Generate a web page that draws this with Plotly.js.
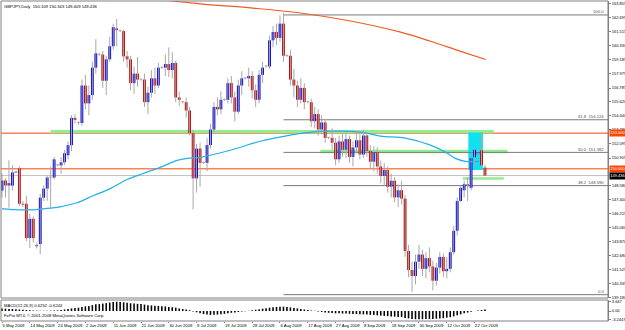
<!DOCTYPE html>
<html><head><meta charset="utf-8">
<script src="https://cdn.plot.ly/plotly-3.0.1.min.js"></script>
<style>html,body{margin:0;padding:0;background:#fff;overflow:hidden}#chart{width:625px;height:330px}</style>
</head><body><div id="chart"></div>
<script>
// ---- data (GBPJPY daily candles, bar index order) ----
const openP = [148.17,149.02,148.60,148.59,149.70,150.04,147.07,147.07,144.18,145.80,143.60,143.68,147.58,148.34,149.27,149.27,150.30,150.29,150.55,151.14,151.99,154.28,153.85,153.85,157.00,155.50,156.20,158.50,159.60,159.60,157.40,159.20,160.30,161.80,161.57,161.57,159.45,159.20,157.20,158.00,157.50,157.50,155.60,156.40,157.60,157.00,158.50,158.50,158.80,158.30,158.90,156.00,155.60,155.60,154.90,153.00,149.20,151.70,150.50,150.50,152.00,153.30,155.20,155.00,155.80,155.80,157.20,156.00,154.80,157.00,157.60,157.60,157.80,156.60,155.80,157.90,158.60,158.60,160.80,161.50,161.00,162.20,159.50,159.50,157.50,157.00,155.80,156.80,155.60,155.60,154.00,154.60,153.30,153.90,152.60,152.60,152.20,150.80,152.30,151.60,152.50,151.00,151.80,152.40,151.20,152.80,151.50,150.60,151.40,150.20,149.40,149.90,148.50,149.00,147.60,148.20,147.50,143.10,141.50,141.00,142.20,142.80,141.60,142.50,141.80,140.60,141.70,142.60,141.40,141.60,143.00,144.80,147.30,148.20,148.70,148.40,150.97,151.30,151.56,150.109];
const highP = [149.61,149.20,150.72,150.30,149.80,150.20,147.30,147.75,146.22,146.00,143.80,147.90,148.60,149.44,150.20,151.00,150.40,151.00,151.60,152.30,154.50,154.60,154.00,157.50,157.90,157.00,159.00,160.90,159.70,159.90,159.50,161.10,162.20,162.60,161.70,161.70,159.90,159.50,158.60,159.40,157.60,158.00,156.90,158.30,158.50,158.90,158.60,159.60,160.20,159.80,159.10,156.50,155.70,156.00,155.20,153.30,152.10,152.20,150.60,152.60,153.80,155.60,156.00,156.50,155.90,157.60,157.80,156.50,157.50,158.20,157.70,158.50,158.20,157.10,158.30,159.00,158.70,161.20,162.00,162.20,162.90,163.10,159.60,160.00,158.40,157.40,157.60,157.20,155.70,155.90,155.20,155.00,154.50,154.20,152.70,153.40,152.60,152.80,153.00,153.00,152.80,152.30,153.20,152.90,153.30,153.10,152.00,151.90,151.80,150.70,150.50,150.20,149.60,149.30,148.70,149.00,147.80,143.60,142.20,142.80,143.60,143.20,143.00,143.40,142.30,142.10,143.00,142.90,142.60,143.40,145.20,147.60,148.60,149.00,149.30,151.00,151.80,151.60,153.09,150.343];
const lowP = [147.58,147.58,146.73,148.20,149.65,146.90,146.80,143.93,143.34,143.80,143.30,142.83,147.30,147.32,146.73,149.10,150.20,149.60,150.30,150.80,151.50,153.80,153.70,153.60,155.00,154.50,155.80,158.00,159.50,156.80,156.20,159.00,160.00,160.30,161.50,159.00,158.50,156.60,156.30,156.90,157.40,155.20,154.60,156.00,156.30,156.80,158.40,157.80,157.70,157.60,155.60,155.30,155.50,154.30,152.80,146.60,148.00,148.50,150.40,149.80,151.70,153.00,154.50,154.60,155.70,155.50,155.50,154.00,154.60,156.20,157.50,156.90,155.90,155.20,155.50,157.20,158.50,158.40,160.20,160.40,160.70,159.00,159.40,157.00,156.00,155.20,155.50,155.00,155.50,153.50,153.40,152.80,152.90,152.20,152.50,151.60,150.30,150.50,151.00,150.90,150.50,150.20,151.30,150.80,150.90,151.00,150.00,149.80,149.60,148.80,148.60,148.00,147.60,147.20,146.80,147.00,142.60,140.90,139.66,140.30,141.60,141.00,140.80,141.30,139.80,140.20,141.20,140.90,140.80,141.30,142.80,144.40,147.20,147.60,147.30,148.20,150.20,151.00,150.20,149.409];
const closeP = [149.02,148.60,148.80,149.70,149.75,147.07,147.00,144.18,145.80,144.18,143.50,147.58,148.34,149.27,149.30,150.80,150.35,150.55,151.31,151.99,154.28,154.11,153.85,157.00,155.50,156.20,158.50,159.70,159.62,157.40,159.20,160.30,161.90,161.65,161.60,159.45,159.20,157.20,158.00,157.50,157.52,155.60,156.40,157.60,157.00,158.50,158.52,158.80,158.30,158.90,156.00,155.80,155.62,154.90,153.00,149.20,151.70,150.50,150.52,152.00,153.30,155.20,155.00,155.80,155.82,157.20,156.00,154.80,157.00,157.60,157.62,157.80,156.60,155.80,157.90,158.50,158.62,160.80,161.50,161.00,162.20,159.50,159.52,157.50,157.00,155.80,156.80,155.60,155.62,154.00,154.60,153.30,153.90,152.60,152.62,152.20,150.80,152.30,151.60,152.50,151.00,151.80,152.40,151.20,152.80,151.50,150.60,151.40,150.20,149.40,149.90,148.50,149.00,147.60,148.20,147.50,143.10,141.50,141.00,142.20,142.80,141.60,142.50,141.80,140.60,141.70,142.60,141.40,141.60,143.00,144.80,147.30,148.40,148.70,148.60,150.90,151.60,151.40,150.30,149.436];
const macdMain = [1.0,0.9,0.8,0.75,0.7,0.6,0.5,0.4,0.3,0.2,0.15,0.1,0.1,0.12,0.15,0.2,0.25,0.4,0.6,0.8,1.0,1.2,1.3,1.6,1.8,2.0,2.3,2.6,2.7,2.9,3.1,3.3,3.5,3.6,3.55,3.4,3.2,3.0,2.9,2.8,2.7,2.5,2.3,2.2,2.1,2.0,1.9,1.8,1.6,1.5,1.3,1.0,0.8,0.6,0.3,-0.2,-0.5,-0.9,-1.2,-1.4,-1.5,-1.5,-1.4,-1.3,-1.1,-0.9,-0.7,-0.6,-0.4,-0.2,-0.1,0.1,0.3,0.5,0.7,0.9,1.1,1.3,1.5,1.6,1.7,1.7,1.6,1.4,1.2,1.0,0.8,0.6,0.4,0.2,0.1,-0.2,-0.4,-0.6,-0.7,-0.8,-0.9,-0.9,-1.0,-1.0,-1.1,-1.2,-1.2,-1.3,-1.3,-1.4,-1.5,-1.6,-1.7,-1.8,-1.9,-2.0,-2.1,-2.2,-2.3,-2.4,-2.7,-2.9,-3.1,-3.2,-3.2,-3.2,-3.1,-3.1,-3.1,-3.0,-2.9,-2.8,-2.6,-2.4,-2.1,-1.7,-1.3,-0.9,-0.6,-0.3,0.0,0.2,0.4,0.6252];
const maFastIdx = [0,5.2,8.9,11.8,16.7,21.6,26.2,31.1,36.0,40.6,45.5,50.4,53.3,57.1,65.7,74.4,83.0,88.8,94.5,103.2,108.9,116.1,123.3,127.7,130.5,133.4,137.2];
const maFastVal = [146.64,146.56,146.56,146.64,146.81,147.15,147.74,148.34,149.10,149.61,150.12,150.71,150.88,150.97,151.56,152.32,152.83,153.09,153.17,153.09,152.75,152.58,151.99,151.39,150.88,150.63,150.63];
const maSlowIdx = [43.5,57.1,71.5,85.9,100.3,114.7,123.3,132.0,139.2];
const maSlowVal = [164.28,163.86,163.52,163.09,162.42,161.48,160.72,159.87,159.19];
const dateTickIdx = [0,8,16,24,32,40,48,56,64,72,80,88,96,104,112,120,128,136];
const dateLabels = ["5 May 2009","14 May 2009","24 May 2009","2 Jun 2009","11 Jun 2009","21 Jun 2009","30 Jun 2009","9 Jul 2009","19 Jul 2009","28 Jul 2009","6 Aug 2009","17 Aug 2009","27 Aug 2009","8 Sep 2009","18 Sep 2009","30 Sep 2009","12 Oct 2009","22 Oct 2009"];
const priceTickVals = [139.180,140.335,141.525,142.680,143.870,145.060,146.215,147.400,148.580,150.905,152.095,153.280,154.440,155.620,156.785,157.975,159.185,160.330,161.515,162.695,163.855];
const priceTickText = ["139.180","140.335","141.525","142.680","143.870","145.060","146.215","147.400","148.580","150.905","152.095","153.280","154.440","155.620","156.785","157.975","159.185","160.330","161.515","162.695","163.855"];
const macdTickVals = [3.647,0,-3.2447];
const macdTickText = ["3.647","0.00","-3.2447"];
const fibLevels = [162.93,154.124,151.382,148.590,139.43];
const fibNames = ["100.0","61.8  154.124","50.0  151.382","38.2  148.590","0.0"];
const fibStartIdx = 81;
const hLevels = [153.0,150.0];
const hLevelText = ["153.000","150.000"];
const bidPrice = 149.436;
const zoneX0 = [14,91.6,132.6];
const zoneX1 = [141.5,145.5,144.4];
const zoneY0 = [153.0,151.3,149.08];
const zoneY1 = [153.27,151.6,149.3];
const boxX = [134.2,138.4];
const boxY = [149.9,153.05];

// ---- build ----
const n = openP.length;
const idx = openP.map((_, i) => i);
const wx = [], wy = [];
for (let i = 0; i < n; i++) { wx.push(i, i, null); wy.push(lowP[i], highP[i], null); }
const bodyBase = [], bodyH = [], bodyCol = [];
for (let i = 0; i < n; i++) {
  const o = openP[i], c = closeP[i];
  bodyBase.push(Math.min(o, c));
  bodyH.push(Math.max(Math.abs(c - o), 0.07));
  bodyCol.push(Math.abs(c - o) < 0.05 ? '#9a9a9a' : (c > o ? '#0000d8' : '#c00000'));
}
const F = 'Liberation Sans, Arial, sans-serif';
const fs = 4.2;
const traces = [
  {type:'scatter', mode:'lines', x:maFastIdx, y:maFastVal, line:{color:'#20b0f0', width:1.2, shape:'spline'}, hoverinfo:'skip', xaxis:'x', yaxis:'y'},
  {type:'scatter', mode:'lines', x:maSlowIdx, y:maSlowVal, line:{color:'#f05a20', width:1.2, shape:'spline'}, hoverinfo:'skip', xaxis:'x', yaxis:'y'},
  {type:'scatter', mode:'lines', x:wx, y:wy, line:{color:'#a8a8a8', width:1}, hoverinfo:'skip', connectgaps:false, xaxis:'x', yaxis:'y'},
  {type:'bar', x:idx, y:bodyH, base:bodyBase, width:0.8, marker:{color:bodyCol, line:{width:0}}, hoverinfo:'skip', xaxis:'x', yaxis:'y'},
  {type:'bar', x:idx, y:macdMain, width:0.45, marker:{color:'#000000', line:{width:0}}, hoverinfo:'skip', xaxis:'x', yaxis:'y2'}
];
const shapes = [];
const annotations = [];
for (let k = 0; k < zoneX0.length; k++) shapes.push({type:'rect', xref:'x', yref:'y', x0:zoneX0[k], x1:zoneX1[k], y0:zoneY0[k], y1:zoneY1[k], fillcolor:'#90ee90', line:{width:0}, layer:'below'});
shapes.push({type:'rect', xref:'x', yref:'y', x0:boxX[0], x1:boxX[1], y0:boxY[0], y1:boxY[1], fillcolor:'#10e0f0', line:{width:0}, layer:'below'});
fibLevels.forEach((v, k) => {
  shapes.push({type:'line', xref:'x', yref:'y', x0:fibStartIdx, x1:174.4, y0:v, y1:v, line:{color:'#7a7a7a', width:1}, layer:'below'});
  annotations.push({xref:'paper', yref:'y', x:0.997, y:v, yshift:3, xanchor:'right', yanchor:'middle', text:fibNames[k], showarrow:false, font:{family:F, size:fs, color:'#505050'}});
});
hLevels.forEach((v, k) => {
  shapes.push({type:'line', xref:'paper', yref:'y', x0:0, x1:1, y0:v, y1:v, line:{color:'#ff4500', width:1}, layer:'below'});
  annotations.push({xref:'paper', yref:'y', x:1, xshift:1, y:v, xanchor:'left', yanchor:'middle', text:hLevelText[k], showarrow:false, bgcolor:'#ff4500', borderpad:0.3, font:{family:F, size:4, color:'#ffffff'}});
});
shapes.push({type:'line', xref:'paper', yref:'y', x0:0, x1:1, y0:bidPrice, y1:bidPrice, line:{color:'#c0c0c0', width:1}, layer:'below'});
annotations.push({xref:'paper', yref:'y', x:1, xshift:1, y:bidPrice, xanchor:'left', yanchor:'middle', text:bidPrice.toFixed(3), showarrow:false, bgcolor:'#000000', borderpad:0.3, font:{family:F, size:4, color:'#ffffff'}});
const pDom = [0.0719, 1], mDom = [0, 0.0656];
shapes.push({type:'rect', xref:'paper', yref:'paper', x0:0, x1:1, y0:pDom[0], y1:pDom[1], line:{color:'#808080', width:1}, fillcolor:'rgba(0,0,0,0)'});
shapes.push({type:'rect', xref:'paper', yref:'paper', x0:0, x1:1, y0:mDom[0], y1:mDom[1], line:{color:'#808080', width:1}, fillcolor:'rgba(0,0,0,0)'});
annotations.push({xref:'paper', yref:'paper', x:0.002, y:0.997, xanchor:'left', yanchor:'top', text:'GBPJPY,Daily  150.109 150.343 149.409 149.436', showarrow:false, font:{family:F, size:fs, color:'#000000'}});
annotations.push({xref:'paper', yref:'paper', x:0.002, y:mDom[1], yshift:-1, xanchor:'left', yanchor:'top', text:'MACD(12,26,9) 0.6252 -0.6244', showarrow:false, font:{family:F, size:fs, color:'#000000'}});
annotations.push({xref:'paper', yref:'paper', x:0.002, y:0.0, yshift:1, xanchor:'left', yanchor:'bottom', text:'FxPro MT4, © 2001-2008 MetaQuotes Software Corp.', showarrow:false, font:{family:F, size:fs, color:'#000000'}});

const layout = {
  width:625, height:330, margin:{l:1, r:17, t:1, b:9},
  paper_bgcolor:'#ffffff', plot_bgcolor:'#ffffff', showlegend:false, barmode:'overlay',
  xaxis:{range:[-0.29,174.4], anchor:'y2', automargin:false, showgrid:false, zeroline:false, tickmode:'array', tickvals:dateTickIdx, ticktext:dateLabels, tickangle:0, ticks:'outside', ticklen:1, tickcolor:'#808080', ticklabelposition:'outside right', ticklabelstandoff:0, tickfont:{family:F, size:fs, color:'#000000'}, showline:false, fixedrange:true},
  yaxis:{domain:pDom, range:[139.15,164.10], side:'right', anchor:'x', automargin:false, showgrid:false, zeroline:false, tickmode:'array', tickvals:priceTickVals, ticktext:priceTickText, ticks:'outside', ticklen:2, tickcolor:'#808080', tickfont:{family:F, size:4, color:'#000000'}, showline:true, linecolor:'#808080', fixedrange:true},
  yaxis2:{domain:mDom, range:[-3.9,4.3], side:'right', anchor:'x', automargin:false, showgrid:false, zeroline:false, tickmode:'array', tickvals:macdTickVals, ticktext:macdTickText, ticks:'outside', ticklen:2, tickcolor:'#808080', tickfont:{family:F, size:4, color:'#000000'}, showline:true, linecolor:'#808080', fixedrange:true},
  shapes:shapes, annotations:annotations
};
Plotly.newPlot('chart', traces, layout, {displayModeBar:false, staticPlot:true});
</script></body></html>
